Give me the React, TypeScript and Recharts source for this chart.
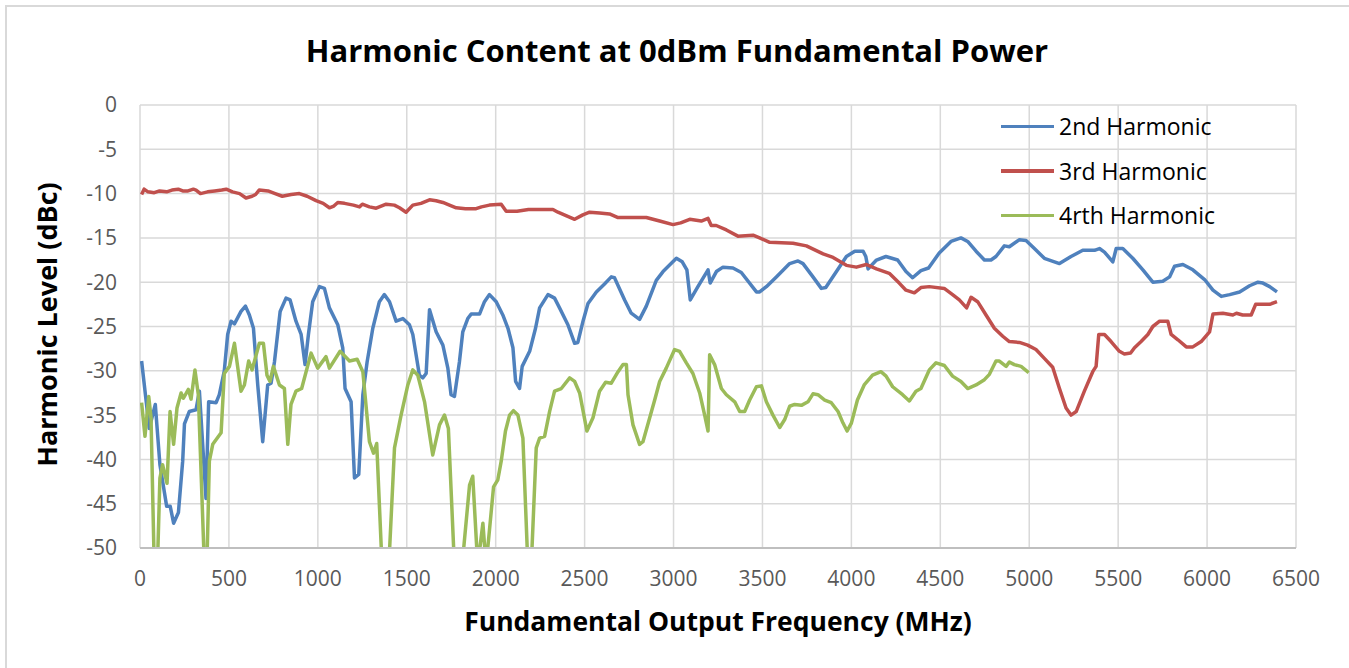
import { LineChart, Line, XAxis, YAxis, CartesianGrid } from 'recharts'

// frequency (MHz) / harmonic level (dBc) pairs
const freqTicks = [0, 500, 1000, 1500, 2000, 2500, 3000, 3500, 4000, 4500, 5000, 5500, 6000, 6500]
const levelTicks = [0, -5, -10, -15, -20, -25, -30, -35, -40, -45, -50]

const second: [number, number][] = [
  [9, -28.9], [52, -36.5], [86, -33.8], [112, -40.6], [150, -45.3], [170, -45.3], [189, -47.2], [216, -46],
  [240, -40.2], [250, -36], [277, -34.6], [315, -34.4], [334, -32.3], [371, -44.4], [386, -33.5], [428, -33.6],
  [446, -32.7], [474, -30], [493, -25.9], [512, -24.4], [531, -24.7], [568, -23.3], [593, -22.7], [615, -23.7],
  [638, -25.2], [662, -31.6], [690, -38], [718, -31.6], [737, -31.4], [756, -29], [788, -23.3], [821, -21.8],
  [844, -22], [877, -24.4], [906, -25.9], [928, -29.3], [947, -25.9], [971, -22.2], [1009, -20.5], [1037, -20.7],
  [1065, -22.9], [1112, -24.8], [1140, -27.4], [1153, -32], [1187, -33.5], [1206, -42.1], [1230, -41.7], [1253, -32.7],
  [1277, -29], [1309, -25.2], [1346, -22.2], [1374, -21.4], [1403, -22.2], [1440, -24.4], [1478, -24.1], [1515, -24.8],
  [1534, -25.9], [1571, -30.5], [1590, -30.8], [1609, -30.3], [1628, -23.1], [1665, -25.6], [1703, -27.1], [1731, -29.7],
  [1749, -32.7], [1768, -32.9], [1796, -29], [1815, -25.6], [1843, -24.1], [1862, -23.6], [1909, -23.6], [1937, -22.2],
  [1965, -21.4], [2003, -22.2], [2040, -23.7], [2069, -25.2], [2097, -27.4], [2112, -31.2], [2134, -32], [2149, -29.5],
  [2191, -27.8], [2224, -25.2], [2247, -22.9], [2294, -21.4], [2331, -21.8], [2359, -22.9], [2406, -24.8], [2444, -26.9],
  [2462, -26.8], [2491, -24.4], [2519, -22.4], [2566, -21.1], [2612, -20.2], [2650, -19.4], [2668, -19.5], [2725, -22],
  [2762, -23.5], [2809, -24.2], [2847, -22.7], [2903, -19.8], [2941, -18.8], [3016, -17.3], [3049, -17.7], [3075, -18.6],
  [3094, -22], [3137, -20.5], [3194, -18.6], [3206, -20.1], [3241, -18.8], [3278, -18.3], [3334, -18.4], [3381, -18.9],
  [3466, -21.1], [3484, -21.1], [3522, -20.5], [3578, -19.4], [3653, -17.9], [3700, -17.6], [3728, -17.9], [3784, -19.4],
  [3831, -20.7], [3856, -20.6], [3916, -18.8], [3972, -17.1], [4019, -16.5], [4066, -16.5], [4081, -17.1], [4094, -18.5],
  [4141, -17.5], [4194, -17.1], [4260, -17.5], [4307, -18.8], [4344, -19.5], [4391, -18.7], [4434, -18.4], [4494, -16.7],
  [4560, -15.4], [4616, -15], [4654, -15.4], [4701, -16.5], [4748, -17.5], [4785, -17.5], [4813, -17.1], [4860, -15.9],
  [4888, -16], [4945, -15.2], [4982, -15.3], [5029, -16.2], [5085, -17.3], [5170, -17.9], [5235, -17.1], [5301, -16.4],
  [5367, -16.4], [5395, -16.2], [5423, -16.6], [5470, -17.7], [5489, -16.2], [5526, -16.2], [5582, -17.3], [5639, -18.6],
  [5695, -20], [5751, -19.9], [5789, -19.4], [5817, -18.2], [5864, -18], [5920, -18.6], [5986, -19.7], [6033, -20.9],
  [6080, -21.6], [6127, -21.4], [6183, -21.1], [6239, -20.4], [6286, -20], [6314, -20.1], [6352, -20.5], [6393, -21.1],
]

const third: [number, number][] = [
  [9, -10.1], [23, -9.5], [45, -9.8], [80, -9.9], [110, -9.7], [150, -9.8], [180, -9.6], [215, -9.5],
  [240, -9.7], [270, -9.7], [300, -9.5], [315, -9.6], [340, -10], [380, -9.8], [420, -9.7], [460, -9.6],
  [485, -9.5], [520, -9.8], [560, -10], [596, -10.5], [630, -10.3], [650, -10.1], [670, -9.6], [720, -9.7],
  [760, -10], [800, -10.3], [850, -10.1], [896, -10], [940, -10.3], [990, -10.8], [1030, -11.1], [1065, -11.6],
  [1090, -11.4], [1112, -11], [1150, -11.1], [1200, -11.3], [1234, -11.5], [1250, -11.2], [1290, -11.5], [1328, -11.65],
  [1384, -11.2], [1430, -11.3], [1459, -11.6], [1496, -12.1], [1534, -11.3], [1580, -11.1], [1628, -10.7], [1665, -10.8],
  [1703, -11], [1740, -11.3], [1778, -11.6], [1830, -11.7], [1890, -11.7], [1920, -11.5], [1965, -11.3], [2031, -11.2],
  [2059, -12], [2120, -12], [2184, -11.8], [2322, -11.8], [2350, -12.1], [2444, -12.9], [2490, -12.4], [2528, -12.1],
  [2584, -12.2], [2640, -12.3], [2688, -12.7], [2847, -12.7], [2922, -13.1], [2997, -13.5], [3040, -13.3], [3091, -12.9],
  [3156, -13.1], [3194, -12.8], [3212, -13.6], [3240, -13.6], [3297, -14.1], [3362, -14.8], [3447, -14.7], [3484, -15],
  [3541, -15.5], [3672, -15.6], [3747, -15.9], [3841, -16.8], [3897, -17.2], [3972, -18.1], [4028, -18.3], [4084, -18],
  [4141, -18.5], [4213, -19], [4269, -20.1], [4307, -20.9], [4354, -21.2], [4391, -20.6], [4438, -20.5], [4522, -20.7],
  [4569, -21.4], [4607, -22], [4648, -22.9], [4673, -21.7], [4710, -22.2], [4757, -23.7], [4804, -25.2], [4851, -26.1],
  [4888, -26.7], [4945, -26.8], [4991, -27.1], [5038, -27.6], [5085, -28.6], [5132, -29.6], [5170, -32], [5207, -34.2],
  [5235, -35], [5264, -34.6], [5310, -32.3], [5357, -30.1], [5376, -29.5], [5391, -25.9], [5423, -25.9], [5460, -26.7],
  [5507, -27.8], [5535, -28.1], [5570, -28], [5592, -27.4], [5629, -26.7], [5667, -25.9], [5695, -25], [5733, -24.4],
  [5779, -24.4], [5798, -25.9], [5836, -26.5], [5883, -27.3], [5920, -27.3], [5967, -26.7], [6014, -25.6], [6033, -23.6],
  [6089, -23.5], [6145, -23.7], [6165, -23.5], [6200, -23.7], [6248, -23.7], [6273, -22.5], [6320, -22.5], [6352, -22.5],
  [6393, -22.2],
]

const fourth: [number, number][] = [
  [9, -33.6], [28, -37.4], [49, -32.9], [62, -35.3], [80, -52], [98, -52], [112, -42.1], [127, -40.6],
  [152, -42.7], [169, -34.6], [189, -38.3], [208, -34.2], [231, -32.5], [244, -33.1], [272, -32.1], [287, -33.2],
  [309, -29.9], [328, -32.7], [362, -52], [376, -52], [390, -40.2], [409, -38.3], [456, -37], [474, -30.3],
  [503, -29.5], [531, -26.9], [568, -32.3], [587, -31.6], [611, -28.9], [630, -29.9], [671, -26.9], [694, -26.9],
  [714, -30.5], [731, -31.2], [750, -29.5], [784, -31.6], [812, -32], [831, -38.3], [849, -33.8], [877, -32.3],
  [909, -32], [934, -30.1], [962, -28], [999, -29.7], [1046, -28.4], [1065, -29.7], [1125, -27.8], [1178, -28.9],
  [1221, -28.7], [1253, -30.1], [1290, -38], [1313, -39.3], [1331, -38.2], [1361, -52], [1399, -52], [1431, -38.7],
  [1468, -35], [1506, -31.6], [1534, -29.9], [1562, -30.5], [1600, -33.5], [1646, -39.5], [1684, -36.1], [1712, -35],
  [1734, -36.5], [1768, -52], [1811, -52], [1853, -42.9], [1871, -41.9], [1899, -52], [1928, -47.2], [1946, -52],
  [1988, -43.1], [2012, -42.3], [2031, -40.2], [2055, -36.8], [2078, -35], [2100, -34.5], [2125, -35], [2153, -37.6],
  [2181, -52], [2200, -52], [2228, -38.7], [2247, -37.6], [2275, -37.4], [2303, -34.6], [2331, -32.3], [2369, -32],
  [2416, -30.8], [2444, -31.2], [2472, -32.5], [2513, -36.8], [2547, -35.3], [2584, -32.3], [2618, -31.3], [2650, -31.4],
  [2688, -30.1], [2716, -29.3], [2735, -29.3], [2744, -32.7], [2772, -36.1], [2809, -38.3], [2828, -38], [2866, -35.3],
  [2894, -33.3], [2922, -31.2], [2959, -29.7], [3006, -27.6], [3034, -27.8], [3072, -29.1], [3109, -30.3], [3147, -32.5],
  [3175, -35], [3194, -36.8], [3203, -28.2], [3231, -29.3], [3269, -32], [3297, -32.7], [3344, -33.5], [3372, -34.6],
  [3400, -34.6], [3428, -33.3], [3466, -31.8], [3494, -31.7], [3522, -33.5], [3559, -35], [3597, -36.4], [3625, -35.5],
  [3653, -34], [3681, -33.8], [3719, -33.9], [3756, -33.5], [3784, -32.6], [3812, -32.7], [3850, -33.3], [3887, -33.6],
  [3925, -34.6], [3953, -35.9], [3976, -36.8], [4000, -35.9], [4034, -33.3], [4072, -31.6], [4119, -30.5], [4166, -30.1],
  [4195, -30.6], [4232, -31.8], [4288, -32.7], [4326, -33.4], [4363, -32.3], [4391, -32], [4438, -29.9], [4476, -29.1],
  [4523, -29.4], [4569, -30.6], [4616, -31.2], [4654, -32], [4701, -31.6], [4748, -31], [4776, -30.4], [4813, -28.9],
  [4832, -28.9], [4870, -29.5], [4888, -29], [4916, -29.3], [4954, -29.5], [4997, -30.2],
]

const series = [
  { name: '2nd Harmonic', color: '#4F81BD', points: second },
  { name: '3rd Harmonic', color: '#C0504D', points: third },
  { name: '4rth Harmonic', color: '#9BBB59', points: fourth },
]

const font = '"Open Sans", sans-serif'

export default function App() {
  return (
    <div style={{ position: 'absolute', left: 0, top: 0, width: 1349, height: 668, overflow: 'hidden', background: '#fff', fontFamily: font }}>
      <div style={{ position: 'absolute', left: 5, top: 5, width: 1400, height: 700, border: '2px solid #d9d9d9' }} />
      <LineChart width={1349} height={668} margin={{ top: 105, right: 53, bottom: 80, left: 80 }}>
        <CartesianGrid stroke="#d9d9d9" strokeWidth={1.5} />
        <XAxis
          dataKey="f"
          type="number"
          domain={[0, 6500]}
          ticks={freqTicks}
          allowDataOverflow
          height={40}
          tickLine={false}
          tickSize={0}
          tickMargin={23}
          axisLine={{ stroke: '#bfbfbf', strokeWidth: 2 }}
          tick={{ fontSize: 21, fill: '#595959', fontFamily: font }}
        />
        <YAxis
          type="number"
          domain={[-50, 0]}
          ticks={levelTicks}
          allowDataOverflow
          width={60}
          tickLine={false}
          tickSize={0}
          tickMargin={23}
          axisLine={false}
          tick={{ fontSize: 21, fill: '#595959', fontFamily: font }}
        />
        {series.map(s => (
          <Line
            key={s.name}
            data={s.points.map(([f, db]) => ({ f, db }))}
            dataKey="db"
            name={s.name}
            type="linear"
            stroke={s.color}
            strokeWidth={3.5}
            strokeLinejoin="round"
            dot={false}
            isAnimationActive={false}
          />
        ))}
      </LineChart>

      <div style={{ position: 'absolute', left: 0, top: 29, width: 1354, textAlign: 'center', fontSize: 31, fontWeight: 700, color: '#000' }}>
        Harmonic Content at 0dBm Fundamental Power
      </div>
      <div style={{ position: 'absolute', left: 140, top: 603, width: 1156, textAlign: 'center', fontSize: 26.5, fontWeight: 700, color: '#000' }}>
        Fundamental Output Frequency (MHz)
      </div>
      <div style={{ position: 'absolute', left: 46, top: 325, width: 0, height: 0 }}>
        <div style={{ position: 'absolute', left: -200, top: -19, width: 400, textAlign: 'center', transform: 'rotate(-90deg)', fontSize: 27, fontWeight: 700, color: '#000', whiteSpace: 'nowrap' }}>
          Harmonic Level (dBc)
        </div>
      </div>

      <div style={{ position: 'absolute', left: 1001, top: 104 }}>
        {series.map(s => (
          <div key={s.name} style={{ display: 'flex', alignItems: 'center', height: 44.5 }}>
            <span style={{ display: 'inline-block', width: 53, height: 3.5, background: s.color, marginRight: 5 }} />
            <span style={{ fontSize: 23, color: '#000' }}>{s.name}</span>
          </div>
        ))}
      </div>
    </div>
  )
}
